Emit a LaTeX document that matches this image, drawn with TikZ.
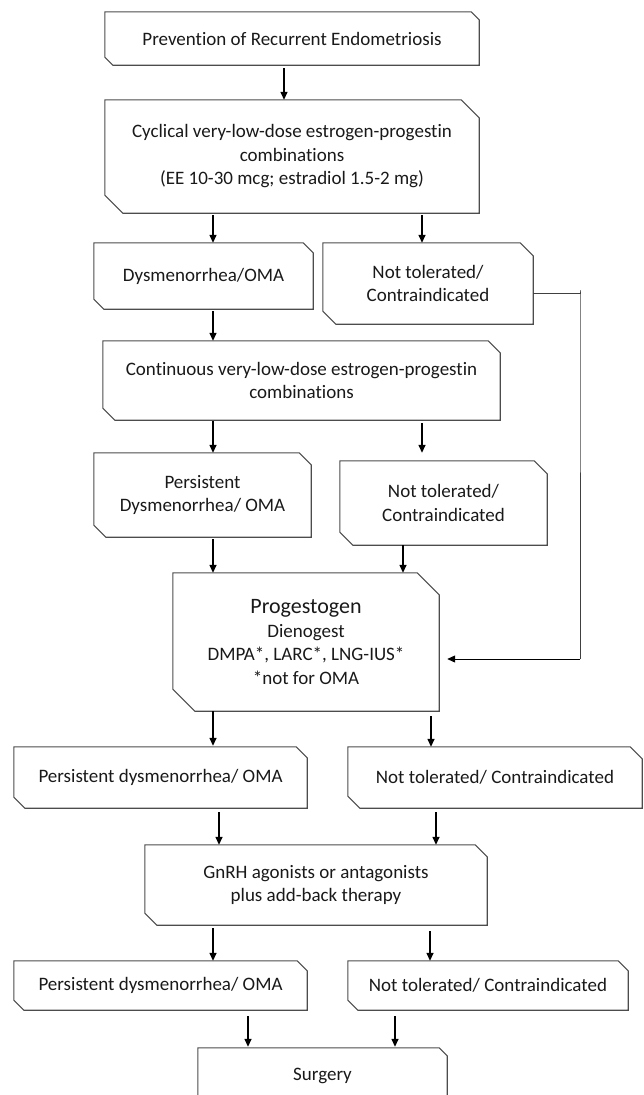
\documentclass[tikz,border=0pt]{standalone}
\usepackage{fontspec}
\setmainfont{Carlito}[Ligatures=NoCommon]
\usetikzlibrary{arrows.meta,calc}

\tikzset{
  box/.style={inner sep=0pt, align=center, text=black!90},
  arr/.style={-{Triangle[length=8pt,width=7pt]}, line width=1.4pt},
  outline/.style={draw=black!70, line width=1.1pt},
  rail/.style={draw=black!75, line width=1pt},
}
% box with cut top-right and bottom-left corners
\newcommand{\snipbox}[2]{%
  \draw[outline] (#1.north west) -- ($(#1.north east)+(-#2pt,0)$) -- ($(#1.north east)+(0,-#2pt)$)
    -- (#1.south east) -- ($(#1.south west)+(#2pt,0)$) -- ($(#1.south west)+(0,#2pt)$) -- cycle;}

\begin{document}
\begin{tikzpicture}[x=1pt,y=-1pt,font=\fontsize{19pt}{23.5pt}\selectfont]
\useasboundingbox (0,0) rectangle (643,1095);

% boxes
\node[box, minimum width=374pt, minimum height=53pt] (top) at (292,38.5) {Prevention of Recurrent Endometriosis};
\node[box, minimum width=374pt, minimum height=113pt] (cyc) at (292,156.5) {Cyclical very-low-dose estrogen-progestin\\combinations\\(EE 10-30 mcg; estradiol 1.5-2 mg)};
\node[box, minimum width=219pt, minimum height=66pt] (dys) at (203.5,276) {Dysmenorrhea/OMA};
\node[box, minimum width=210pt, minimum height=81pt] (nt1) at (428,283.5) {Not tolerated/\\Contraindicated};
\node[box, minimum width=397pt, minimum height=79pt] (cont) at (301.5,380.5) {Continuous very-low-dose estrogen-progestin\\combinations};
\node[box, minimum width=217pt, minimum height=84pt] (pers) at (202.5,495) {Persistent\\Dysmenorrhea/ OMA};
\node[box, minimum width=207pt, minimum height=84pt] (nt2) at (443.5,503) {Not tolerated/\\Contraindicated};
\node[box, minimum width=266pt, minimum height=138pt] (prog) at (306,642) {{\fontsize{22pt}{24pt}\selectfont Progestogen}\\Dienogest\\DMPA*, LARC*, LNG-IUS*\\*not for OMA};
\node[box, minimum width=293pt, minimum height=61pt] (pers2) at (160.5,777.5) {Persistent dysmenorrhea/ OMA};
\node[box, minimum width=294pt, minimum height=61pt] (nt3) at (495,777.5) {Not tolerated/ Contraindicated};
\node[box, minimum width=342pt, minimum height=80pt] (gnrh) at (316,885) {GnRH agonists or antagonists\\plus add-back therapy};
\node[box, minimum width=293pt, minimum height=49pt] (pers3) at (160.5,985.5) {Persistent dysmenorrhea/ OMA};
\node[box, minimum width=280pt, minimum height=49pt] (nt4) at (488,985.5) {Not tolerated/ Contraindicated};
\node[box, minimum width=249pt, minimum height=56pt] (surg) at (322.5,1076) {Surgery};

\snipbox{top}{8}
\snipbox{cyc}{18}
\snipbox{dys}{10}
\snipbox{nt1}{13}
\snipbox{cont}{12}
\snipbox{pers}{12}
\snipbox{nt2}{13}
\snipbox{prog}{22}
\snipbox{pers2}{11}
\snipbox{nt3}{12}
\snipbox{gnrh}{12}
\snipbox{pers3}{10}
\snipbox{nt4}{10}
\snipbox{surg}{8}

% arrow columns
\coordinate (c1) at (284,0);
\coordinate (c2) at (213,0);
\coordinate (c3) at (422,0);
\coordinate (c4) at (403,0);
\coordinate (c5) at (431,0);
\coordinate (c6) at (219,0);
\coordinate (c7) at (436,0);
\coordinate (c8) at (430,0);
\coordinate (c9) at (248,0);
\coordinate (c10) at (395,0);
\coordinate (rail) at (580,659);

% connectors
\draw[arr] ([yshift=-3pt]top.south -| c1) -- (cyc.north -| c1);
\draw[arr] ([yshift=-2pt]cyc.south -| c2) -- (dys.north -| c2);
\draw[arr] ([yshift=-2pt]cyc.south -| c3) -- (nt1.north -| c3);
\draw[arr] ([yshift=-2pt]dys.south -| c2) -- (cont.north -| c2);
\draw[arr] ([yshift=-1pt]cont.south -| c2) -- (pers.north -| c2);
\draw[arr] ([yshift=-3pt]cont.south -| c3) -- ([yshift=8pt]nt2.north -| c3);
\draw[arr] ([yshift=-2pt]pers.south -| c2) -- (prog.north -| c2);
\draw[arr] (nt2.south -| c4) -- (prog.north -| c4);
\draw[rail] ([yshift=-9.5pt]nt1.east) -| ([yshift=-6.5pt]nt1.east -| rail) -- (rail);
\draw[arr, line width=1pt] (rail) -- ([xshift=8pt]prog.east |- rail);
\draw[arr] (prog.south -| c2) -- ([yshift=1pt]pers2.north -| c2);
\draw[arr] ([yshift=-5pt]prog.south -| c5) -- (nt3.north -| c5);
\draw[arr] ([yshift=-4pt]pers2.south -| c6) -- (gnrh.north -| c6);
\draw[arr] ([yshift=-4pt]nt3.south -| c7) -- (gnrh.north -| c7);
\draw[arr] ([yshift=-3pt]gnrh.south -| c2) -- (pers3.north -| c2);
\draw[arr] ([yshift=-6pt]gnrh.south -| c8) -- (nt4.north -| c8);
\draw[arr] ([yshift=-6pt]pers3.south -| c9) -- ([yshift=1pt]surg.north -| c9);
\draw[arr] ([yshift=-6pt]nt4.south -| c10) -- ([yshift=1pt]surg.north -| c10);

\end{tikzpicture}
\end{document}
